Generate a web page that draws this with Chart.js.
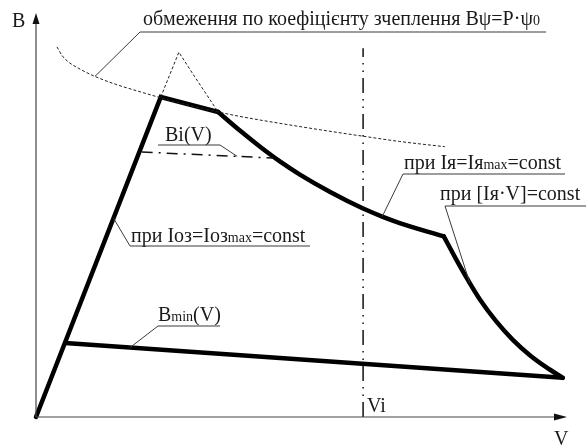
<!DOCTYPE html>
<html>
<head>
<meta charset="utf-8">
<script src="https://cdn.jsdelivr.net/npm/chart.js@4"></script>
<style>
  html, body { margin: 0; padding: 0; background: #fff; }
  canvas { display: block; }
</style>
</head>
<body>
<canvas id="myChart" width="586" height="446"></canvas>
<script>
// traction characteristic B(V), arbitrary units 0..100 on both axes
const tractV = [0, 23.5, 34.3];
const tractB = [0, 79.2, 75.5];

// Iя = Iяmax = const
const armV = [34.3, 38.4, 42.2, 46.0, 49.7, 55.4, 61.6, 65.2, 68.5, 76.8];
const armB = [75.5, 70.9, 66.9, 63.2, 60.0, 55.7, 51.6, 49.6, 48.0, 44.7];

// [Iя·V] = const
const powerV = [76.8, 79.1, 81.4, 83.6, 86.6, 89.8, 93.0, 96.0, 99.2];
const powerB = [44.7, 39.1, 33.8, 29.1, 23.8, 19.1, 15.3, 12.4, 9.7];

// Bmin(V)
const bminV = [5.5, 99.2];
const bminB = [18.3, 9.7];

// adhesion limit Bψ = P·ψ0
const adhV = [3.95, 4.9, 6.0, 8.3, 11.1, 14.9, 19.6, 25.2, 30.9, 38.4, 45.9, 53.5, 61.6, 68.5, 77.0];
const adhB = [91.6, 89.5, 88.0, 86.1, 84.3, 82.4, 80.5, 78.4, 76.5, 74.4, 72.7, 71.1, 69.5, 68.2, 66.9];

// thin dotted peak above the corner
const peakV = [23.5, 26.9, 29.9, 34.3];
const peakB = [79.2, 90.3, 84.2, 75.5];

// Bi(V)
const biV = [19.9, 44.6];
const biB = [65.6, 64.1];

// Vi
const viV = 61.6;
const viTop = 91.3;

function pts(xs, ys) {
  return xs.map((x, i) => ({ x: x, y: ys[i] }));
}

// value of a series at a given V (linear between points)
function at(xs, ys, v) {
  for (let i = 1; i < xs.length; i++) {
    if (v <= xs[i]) {
      const t = (v - xs[i - 1]) / (xs[i] - xs[i - 1]);
      return { x: v, y: ys[i - 1] + t * (ys[i] - ys[i - 1]) };
    }
  }
  return { x: v, y: ys[ys.length - 1] };
}

const FONT = '"Liberation Serif", Tinos, serif';
const INK = '#1a1a1a';

const labels = [
  { parts: [['обмеження по коефіцієнту зчеплення Bψ=P·ψ', 20], ['0', 14]],
    x: 143, y: 25, line: [140, 546, 32], lead: at(adhV, adhB, 11.1) },
  { parts: [['Bi(V)', 20]],
    x: 165, y: 141, line: [158, 220, 145], lead: at(biV, biB, 37.9) },
  { parts: [['при Iоз=Iоз', 20], ['max', 14], ['=const', 20]],
    x: 131, y: 242, line: [130, 310, 246], lead: at(tractV, tractB, 14.6) },
  { parts: [['при Iя=Iя', 20], ['max', 14], ['=const', 20]],
    x: 404, y: 169, line: [403, 565, 174], lead: at(armV, armB, 65.2) },
  { parts: [['при [Iя·V]=const', 20]],
    x: 440, y: 200, line: [445, 586, 206], lead: at(powerV, powerB, 81.7) },
  { parts: [['B', 20], ['min', 14], ['(V)', 20]],
    x: 158, y: 321, line: [158, 220, 326], lead: at(bminV, bminB, 17.7) }
];

function drawParts(ctx, x, y, parts) {
  parts.forEach(p => {
    ctx.font = p[1] + 'px ' + FONT;
    ctx.fillText(p[0], x, y);
    x += ctx.measureText(p[0]).width;
  });
}

const decor = {
  id: 'decor',
  afterDatasetsDraw(chart) {
    const ctx = chart.ctx;
    const xs = chart.scales.x, ys = chart.scales.y;
    const x0 = xs.getPixelForValue(0), y0 = ys.getPixelForValue(0);
    const top = chart.chartArea.top, right = chart.chartArea.right;
    ctx.save();

    // axes with arrows
    ctx.strokeStyle = '#444';
    ctx.fillStyle = '#111';
    ctx.lineWidth = 1.2;
    ctx.beginPath();
    ctx.moveTo(x0, y0);
    ctx.lineTo(x0, top + 8);
    ctx.moveTo(x0, y0);
    ctx.lineTo(right - 8, y0);
    ctx.stroke();
    ctx.beginPath();
    ctx.moveTo(x0, top);
    ctx.lineTo(x0 - 3.5, top + 11);
    ctx.lineTo(x0 + 3.5, top + 11);
    ctx.closePath();
    ctx.fill();
    ctx.beginPath();
    ctx.moveTo(right, y0);
    ctx.lineTo(right - 13, y0 - 3.5);
    ctx.lineTo(right - 13, y0 + 3.5);
    ctx.closePath();
    ctx.fill();

    // labels, underlines and leaders
    ctx.fillStyle = INK;
    ctx.textBaseline = 'alphabetic';
    drawParts(ctx, 12, 27, [['B', 20]]);
    drawParts(ctx, 554, 445, [['V', 20]]);
    drawParts(ctx, 367, 412, [['Vi', 20]]);

    ctx.strokeStyle = '#3a3a3a';
    ctx.lineWidth = 1;
    labels.forEach(l => {
      drawParts(ctx, l.x, l.y, l.parts);
      const px = xs.getPixelForValue(l.lead.x);
      const py = ys.getPixelForValue(l.lead.y);
      const lx = Math.abs(px - l.line[0]) < Math.abs(px - l.line[1]) ? l.line[0] : l.line[1];
      ctx.beginPath();
      ctx.moveTo(l.line[1], l.line[2]);
      ctx.lineTo(l.line[0], l.line[2]);
      ctx.stroke();
      ctx.beginPath();
      ctx.moveTo(lx, l.line[2]);
      ctx.lineTo(px, py);
      ctx.stroke();
    });
    ctx.restore();
  }
};

const thick = { borderColor: '#000', borderWidth: 4.5, pointRadius: 0, showLine: true,
  borderCapStyle: 'round', borderJoinStyle: 'miter', clip: false };
const thin = { pointRadius: 0, showLine: true, clip: false };

function draw() {
  let myChart = document.getElementById('myChart').getContext('2d');

  let chart = new Chart(myChart, {
    type: 'scatter',
    data: {
      datasets: [
        Object.assign({ data: pts(adhV, adhB), borderColor: '#222', borderWidth: 1, borderDash: [3, 2],
          cubicInterpolationMode: 'monotone' }, thin),
        Object.assign({ data: pts(peakV, peakB), borderColor: '#222', borderWidth: 1, borderDash: [3, 2] }, thin),
        Object.assign({ data: pts(biV, biB), borderColor: '#111', borderWidth: 1.5, borderDash: [11, 6, 2, 6] }, thin),
        Object.assign({ data: [{ x: viV, y: 0 }, { x: viV, y: viTop }], borderColor: '#111', borderWidth: 1.5,
          borderDash: [15, 6, 1.5, 6, 1.5, 6] }, thin),
        Object.assign({ data: pts(tractV, tractB) }, thick),
        Object.assign({ data: pts(armV, armB), cubicInterpolationMode: 'monotone' }, thick),
        Object.assign({ data: pts(powerV, powerB), cubicInterpolationMode: 'monotone' }, thick),
        Object.assign({ data: pts(bminV, bminB) }, thick)
      ]
    },
    options: {
      responsive: false,
      animation: false,
      devicePixelRatio: 1,
      layout: { padding: { left: 36, right: 19, top: 13, bottom: 29 } },
      scales: {
        x: { type: 'linear', min: 0, max: 100, display: false },
        y: { type: 'linear', min: 0, max: 100, display: false }
      },
      plugins: { legend: { display: false }, tooltip: { enabled: false } }
    },
    plugins: [decor]
  });
}

Promise.all([
  document.fonts.load('20px "Liberation Serif"', 'B при ψ'),
  document.fonts.load('14px "Liberation Serif"', 'max')
]).then(draw, draw);
</script>
</body>
</html>
